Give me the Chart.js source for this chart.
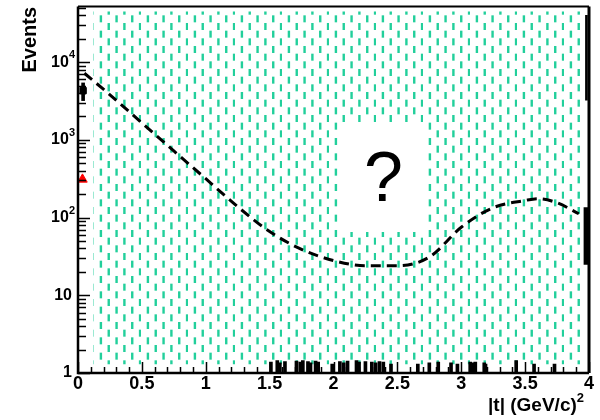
<!doctype html>
<html><head>
<script src="https://cdn.jsdelivr.net/npm/chart.js"></script>
<style>
body { margin: 0; background: #fff; }
#wrap { position: relative; width: 600px; height: 420px; }
#qbox { position: absolute; left: 342px; top: 122px; width: 83px; height: 110px; background: #fff;
        font: 70px "Liberation Sans", Arial, sans-serif; text-align: center; line-height: 110px; color: #000; }
</style>
</head>
<body>
<div id="wrap">
  <canvas id="c" width="600" height="420"></canvas>
  <div id="qbox">?</div>
</div>
<script>
// axis ranges
var xMin = 0, xMax = 4, yMin = 1, yMax = 52000;

// fit curve (dashed)
var fitT = [0.05, 0.25, 0.5, 0.75, 1.0, 1.25, 1.5, 1.75, 2.0, 2.25, 2.5, 2.75, 3.0, 3.25, 3.5, 3.6, 3.75, 3.92];
var fitY = [7200, 3800, 1650, 720, 316, 138, 66, 39, 28, 24, 24, 31, 75, 134, 166, 175, 155, 112];

// hatched band
var bandT = [0.12, 3.93];
var bandTop = [45000, 45000];
var bandBase = 1.3;

// data markers near t = 0
var blackT = [0.04], blackY = [4300], blackLo = [3200], blackHi = [5400];
var redT = [0.035], redY = [310];

// error bars at the right edge
var edgeT = [3.98, 3.98];
var edgeLo = [25, 3250];
var edgeHi = [134, 40000];

// short marks along the bottom
var markT = [1.51, 1.56, 1.58, 1.62, 1.71, 1.74, 1.76, 1.80, 1.82, 1.86, 1.88, 1.99, 2.05, 2.08, 2.11,
             2.18, 2.20, 2.25, 2.30, 2.33, 2.36, 2.39, 2.45, 2.66, 2.75, 2.82, 2.92, 2.97, 3.07, 3.09,
             3.11, 3.18, 3.19, 3.43, 3.57, 3.73];
var markTop = [1.38, 1.45, 1.35, 1.4, 1.42, 1.38, 1.45, 1.4, 1.35, 1.42, 1.38, 1.3, 1.4, 1.35, 1.42,
               1.45, 1.38, 1.4, 1.38, 1.35, 1.4, 1.38, 1.3, 1.3, 1.35, 1.38, 1.35, 1.3, 1.38, 1.35,
               1.38, 1.35, 1.3, 1.45, 1.3, 1.3];

// tick labels
var xLabelVals = [0, 0.5, 1, 1.5, 2, 2.5, 3, 3.5, 4];
var xLabels = ['0', '0.5', '1', '1.5', '2', '2.5', '3', '3.5', '4'];
var yLabelVals = [1, 10, 100, 1000, 10000];
var yLabelBase = ['1', '10', '10', '10', '10'];
var yLabelExp = ['', '', '2', '3', '4'];

var FONT = '"Liberation Sans", Arial, sans-serif';

function makeHatch() {
    var c = document.createElement('canvas');
    c.width = 47; c.height = 46;
    var g = c.getContext('2d');
    g.fillStyle = '#22cf9b';
    for (var k = 0; k < 6; k++) {
        var x = (6.9 + k * 47 / 6) % 47;
        for (var r = -1; r < 4; r++) {
            var y = (k % 2) * 7.67 + r * 15.33;
            g.fillRect(x - 1.2, y, 2.4, 7);
        }
    }
    return g.createPattern(c, 'repeat');
}

function pairs(xs, ys) {
    return xs.map(function(x, i) { return { x: x, y: ys[i] }; });
}
function ranges(xs, lo, hi) {
    return xs.map(function(x, i) { return { x: x, y: [lo[i], hi[i]] }; });
}

var rootFrame = {
    id: 'rootFrame',
    afterDatasetsDraw: function(chart) {
        var ctx = chart.ctx, xs = chart.scales.x, ys = chart.scales.y, a = chart.chartArea;
        ctx.save();
        ctx.strokeStyle = '#000';
        ctx.lineWidth = 1.5;
        ctx.beginPath();
        // y ticks, inside
        for (var d = 0; d <= 4; d++) {
            for (var m = 1; m <= 9; m++) {
                var v = m * Math.pow(10, d);
                if (v > yMax) break;
                var py = Math.round(ys.getPixelForValue(v)) + 0.5;
                var len = m === 1 ? 12 : 8;
                ctx.moveTo(a.left, py); ctx.lineTo(a.left + len, py);
            }
        }
        // x ticks, inside
        for (var i = 0; i <= 40; i++) {
            var px = Math.round(xs.getPixelForValue(i / 10)) + 0.5;
            var l = i % 5 === 0 ? 11 : 6;
            ctx.moveTo(px, a.bottom); ctx.lineTo(px, a.bottom - l);
        }
        ctx.stroke();

        // frame
        ctx.lineWidth = 2;
        ctx.beginPath();
        ctx.moveTo(a.left, a.top); ctx.lineTo(a.right, a.top);
        ctx.stroke();
        ctx.lineWidth = 3;
        ctx.beginPath();
        ctx.moveTo(a.right, a.top); ctx.lineTo(a.right, a.bottom);
        ctx.stroke();
        ctx.lineWidth = 2.5;
        ctx.beginPath();
        ctx.moveTo(a.left, a.top); ctx.lineTo(a.left, a.bottom); ctx.lineTo(a.right, a.bottom);
        ctx.stroke();

        // y labels
        ctx.fillStyle = '#000';
        ctx.textBaseline = 'middle';
        ctx.textAlign = 'left';
        yLabelVals.forEach(function(v, i) {
            var py = ys.getPixelForValue(v);
            ctx.font = 'bold 16px ' + FONT;
            var wb = ctx.measureText(yLabelBase[i]).width;
            var ws = 0;
            if (yLabelExp[i]) {
                ctx.font = 'bold 11px ' + FONT;
                ws = ctx.measureText(yLabelExp[i]).width;
            }
            var right = yLabelExp[i] ? 75 : 72;
            var x0 = right - ws - wb;
            ctx.font = 'bold 16px ' + FONT;
            ctx.fillText(yLabelBase[i], x0, py);
            if (yLabelExp[i]) {
                ctx.font = 'bold 11px ' + FONT;
                ctx.fillText(yLabelExp[i], x0 + wb, py - 7);
            }
        });

        // x labels
        ctx.textAlign = 'center';
        ctx.font = 'bold 18px ' + FONT;
        xLabelVals.forEach(function(v, i) {
            ctx.fillText(xLabels[i], xs.getPixelForValue(v), 384);
        });

        // x title
        ctx.font = 'bold 19px ' + FONT;
        var main = '|t| (GeV/c)';
        var wm = ctx.measureText(main).width;
        ctx.font = 'bold 13px ' + FONT;
        var w2 = ctx.measureText('2').width;
        ctx.textAlign = 'left';
        ctx.font = 'bold 19px ' + FONT;
        ctx.fillText(main, 584 - w2 - wm, 406);
        ctx.font = 'bold 13px ' + FONT;
        ctx.fillText('2', 584 - w2, 398);

        // y title
        ctx.translate(30, 7);
        ctx.rotate(-Math.PI / 2);
        ctx.textAlign = 'right';
        ctx.font = 'bold 20px ' + FONT;
        ctx.fillText('Events', 0, 0);
        ctx.restore();
    }
};

var hatch = makeHatch();

new Chart(document.getElementById('c'), {
    type: 'line',
    data: {
        datasets: [
            {
                data: pairs(bandT, bandTop),
                fill: { value: bandBase },
                backgroundColor: hatch,
                borderWidth: 0,
                pointRadius: 0,
                order: 10
            },
            {
                data: pairs(fitT, fitY),
                borderColor: '#000',
                borderWidth: 3,
                borderDash: [10, 6],
                cubicInterpolationMode: 'monotone',
                pointRadius: 0,
                fill: false,
                order: 5
            },
            {
                type: 'bar',
                data: ranges(markT, markT.map(function() { return 1; }), markTop),
                backgroundColor: '#000',
                barThickness: 3,
                grouped: false,
                order: 4
            },
            {
                type: 'bar',
                data: ranges(edgeT.slice(0, 1), edgeLo.slice(0, 1), edgeHi.slice(0, 1)),
                backgroundColor: '#000',
                barThickness: 5,
                grouped: false,
                order: 3
            },
            {
                type: 'bar',
                data: ranges(edgeT.slice(1), edgeLo.slice(1), edgeHi.slice(1)),
                backgroundColor: '#000',
                barThickness: 2,
                grouped: false,
                order: 3
            },
            {
                type: 'bar',
                data: ranges(blackT, blackLo, blackHi),
                backgroundColor: '#000',
                barThickness: 3,
                grouped: false,
                clip: false,
                order: 2
            },
            {
                type: 'scatter',
                data: pairs(blackT, blackY),
                pointStyle: 'rect',
                pointRadius: 4.5,
                backgroundColor: '#000',
                borderColor: '#000',
                clip: false,
                order: 1
            },
            {
                type: 'scatter',
                data: pairs(redT, redY),
                pointStyle: 'triangle',
                pointRadius: 5.5,
                backgroundColor: '#f00',
                borderColor: '#f00',
                clip: false,
                order: 1
            }
        ]
    },
    options: {
        responsive: false,
        animation: false,
        layout: { padding: { left: 0, right: 11, top: 6, bottom: 0 } },
        plugins: { legend: { display: false }, tooltip: { enabled: false } },
        scales: {
            x: {
                type: 'linear', min: xMin, max: xMax, offset: false,
                grid: { display: false }, border: { display: false },
                ticks: { display: false },
                afterFit: function(s) { s.height = 47; }
            },
            y: {
                type: 'logarithmic', min: yMin, max: yMax,
                grid: { display: false }, border: { display: false },
                ticks: { display: false },
                afterFit: function(s) { s.width = 78; }
            }
        }
    },
    plugins: [rootFrame]
});
</script>
</body>
</html>
